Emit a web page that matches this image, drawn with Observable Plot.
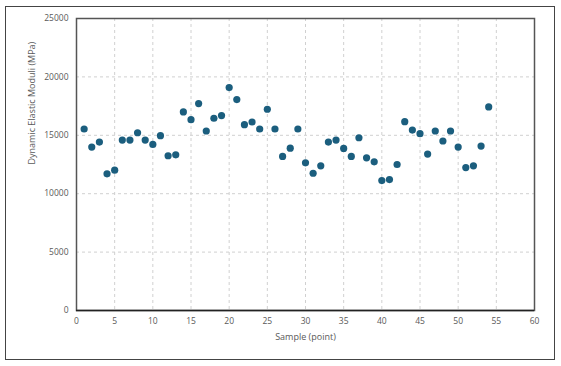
<!DOCTYPE html>
<html>
<head>
<meta charset="utf-8">
<script src="https://cdn.jsdelivr.net/npm/d3@7"></script>
<script src="https://cdn.jsdelivr.net/npm/@observablehq/plot@0.6"></script>
<style>
  html, body { margin: 0; padding: 0; background: #fff; }
  #wrap { position: relative; width: 561px; height: 366px; }
  #border { position: absolute; left: 5px; top: 6px; width: 548px; height: 352px; border: 1.5px solid #444; box-sizing: content-box; pointer-events: none; }
</style>
</head>
<body>
<div id="wrap"><div id="border"></div></div>
<script>
const samples = d3.range(1, 55);
const moduli = [
  15540, 13990, 14420, 11700, 12010, 14590, 14590, 15220, 14590, 14220,
  14970, 13250, 13330, 17000, 16340, 17720, 15370, 16460, 16690, 19090,
  18060, 15910, 16140, 15540, 17230, 15540, 13190, 13900, 15540, 12640,
  11750, 12390, 14420, 14590, 13880, 13190, 14790, 13070, 12730, 11120,
  11210, 12500, 16170, 15450, 15140, 13390, 15370, 14510, 15370, 13990,
  12240, 12390, 14080, 17430
];
const xTicks = [0, 5, 10, 15, 20, 25, 30, 35, 40, 45, 50, 55, 60];
const yTicks = [0, 5000, 10000, 15000, 20000, 25000];
const data = samples.map((s, i) => ({sample: s, value: moduli[i]}));

const chart = Plot.plot({
  width: 561,
  height: 366,
  marginLeft: 76,
  marginRight: 27,
  marginTop: 18,
  marginBottom: 56,
  style: {fontFamily: "Open Sans, sans-serif", fontSize: "8.5px", color: "#595959", background: "transparent"},
  x: {domain: [0, 60], ticks: xTicks, label: null},
  y: {domain: [0, 25000], ticks: yTicks, label: null},
  marks: [
    Plot.gridX(xTicks.slice(1, -1), {stroke: "#d0d0d0", strokeOpacity: 1, strokeDasharray: "3,3"}),
    Plot.gridY(yTicks.slice(1, -1), {stroke: "#d0d0d0", strokeOpacity: 1, strokeDasharray: "3,3"}),
    Plot.axisX(xTicks, {tickSize: 0, tickPadding: 7, fill: "#595959", fontSize: 8.5, tickFormat: d => String(d)}),
    Plot.axisY(yTicks, {tickSize: 0, tickPadding: 8, fill: "#595959", fontSize: 8.5, tickFormat: d => String(d)}),
    Plot.frame({stroke: "#555", strokeWidth: 1.5}),
    Plot.ruleY([0], {stroke: "#222", strokeWidth: 1.5}),
    Plot.dot(data, {x: "sample", y: "value", r: 3.6, fill: "#1b5e7e", stroke: null}),
    Plot.text(["Sample (point)"], {frameAnchor: "bottom", dy: 29, fill: "#595959", fontSize: 9}),
    Plot.text(["Dynamic Elastic Moduli (MPa)"], {frameAnchor: "left", dx: -44, rotate: -90, fill: "#595959", fontSize: 9})
  ]
});
document.getElementById("wrap").appendChild(chart);
chart.style.position = "absolute";
chart.style.left = "0";
chart.style.top = "0";
</script>
</body>
</html>
